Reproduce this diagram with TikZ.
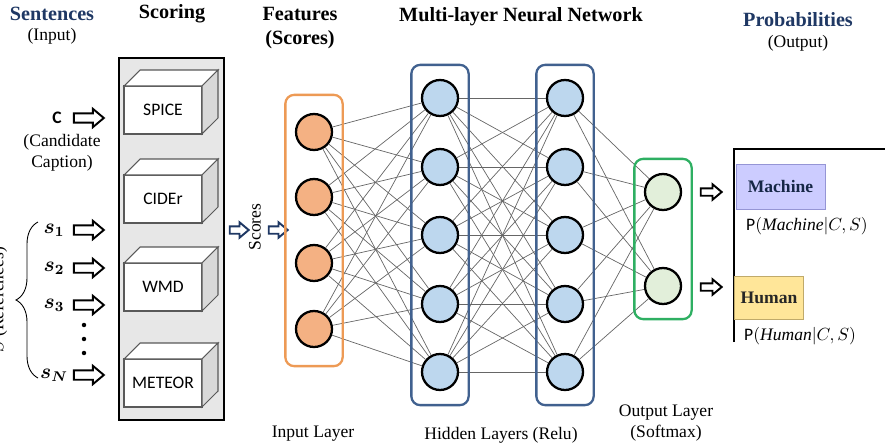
\documentclass[tikz,border=0pt]{standalone}
\usepackage{fontspec}
\setmainfont{Liberation Serif}
\newfontfamily\calibri{Carlito}
\usepackage{bm}
\usetikzlibrary{positioning, fit, shapes.arrows, decorations.pathreplacing}

\definecolor{navy}{HTML}{1F3864}
\definecolor{inorange}{HTML}{F4B183}
\definecolor{boxorange}{HTML}{ED9A55}
\definecolor{inblue}{HTML}{BDD7EE}
\definecolor{boxblue}{HTML}{41618F}
\definecolor{outgreen}{HTML}{E2EFDA}
\definecolor{boxgreen}{HTML}{2EAF62}
\definecolor{scoregray}{HTML}{E7E7E7}
\definecolor{machinefill}{HTML}{CCCCFF}
\definecolor{machineedge}{HTML}{9595D5}
\definecolor{humanfill}{HTML}{FFE699}
\definecolor{humanedge}{HTML}{C0AA6A}

\begin{document}
\begin{tikzpicture}[x=0.02cm, y=-0.02cm,
    neuron/.style={circle, draw, line width=1.3pt, minimum size=0.72cm, inner sep=0pt},
    layerbox/.style={rectangle, draw, rounded corners=5pt, line width=1.3pt, inner xsep=0.19cm, inner ysep=0.28cm},
    link/.style={draw=gray!80!black, line width=0.4pt},
    metric/.style={rectangle, draw=gray!70!black, line width=0.6pt, fill=white, minimum width=1.56cm, minimum height=0.96cm, outer sep=0pt, font=\calibri},
    blockarrow/.style={single arrow, draw, line width=1.1pt, fill=white, minimum height=0.6cm, inner sep=0.075cm, single arrow head extend=0.09cm, single arrow tip angle=80},
    title/.style={font=\fontsize{11.5}{13.6}\selectfont\bfseries, align=center}]

    \useasboundingbox (0,0) rectangle (885,446);

    % Headings
    \node[title, text=navy] (sentences) at (52,14) {Sentences};
    \node (input) at (52,36) {(Input)};
    \node[title] (scoring) at (172,14) {Scoring};
    \node[title] (features) at (300,28) {Features\\(Scores)};
    \node[title] (mlnn) at (521,17) {Multi-layer Neural Network};
    \node[title, text=navy] (probs) at (798,20) {Probabilities};
    \node (output) at (798,43) {(Output)};

    % Sentences
    \node[font=\calibri\bfseries] (cand) at (57,118) {C};
    \node[blockarrow] (candarr) at (86,118) {};
    \node[align=center] (candlbl) at (62,153) {(Candidate\\Caption)};
    \foreach \k/\y in {1/230,2/268,3/305,N/375} {
        \node[font=\large] (s\k) at (54,\y) {$\bm{s_{\k}}$};
        \node[blockarrow] (sarr\k) at (86,\y) {};
    }
    \foreach \k/\y in {1/325,2/339,3/353}
        \node[circle, fill, inner sep=0.9pt] (dot\k) at (84,\y) {};
    \draw[decorate, decoration={brace, amplitude=0.44cm}, line width=0.5pt] (38,378) -- (38,222);
    \node[rotate=90] (refs) at (-1,300) {$S$ (References)};

    % Scoring
    \node[draw, line width=1pt, fill=scoregray, minimum width=2.1cm, minimum height=7.24cm] (panel) at (171.5,239) {};
    \foreach \m/\txt/\y in {spice/SPICE/110, cider/CIDEr/199, wmd/WMD/287, meteor/METEOR/383} {
        \node[metric] (\m) at (163,\y) {\txt};
        \draw[draw=gray!70!black, line width=0.6pt, fill=white] (\m.north west) -- ++(16,-16) -- ++(78,0) -- (\m.north east) -- cycle;
        \draw[draw=gray!70!black, line width=0.6pt, fill=gray!30] (\m.north east) -- ++(16,-16) -- ++(0,48) -- (\m.south east) -- cycle;
    }

    % Scores
    \node[blockarrow, draw=navy, minimum height=0.38cm, inner sep=0.055cm, single arrow head extend=0.08cm] (scarr1) at (237,230) {};
    \node[rotate=90] (scores) at (255,227) {Scores};
    \node[blockarrow, draw=navy, minimum height=0.38cm, inner sep=0.055cm, single arrow head extend=0.08cm] (scarr2) at (276,230) {};

    % Network
    \foreach \i/\y in {1/132,2/197,3/263,4/329}
        \node[neuron, fill=inorange] (in\i) at (314,\y) {};
    \foreach \i/\y in {1/98,2/167,3/235,4/304,5/372} {
        \node[neuron, fill=inblue] (ha\i) at (440,\y) {};
        \node[neuron, fill=inblue] (hb\i) at (565,\y) {};
    }
    \node[neuron, fill=outgreen] (out1) at (663,192) {};
    \node[neuron, fill=outgreen] (out2) at (663,286) {};

    \foreach \a in {1,...,4}
        \foreach \b in {1,...,5}
            \draw[link] (in\a) -- (ha\b);
    \foreach \a in {1,...,5}
        \foreach \b in {1,...,5}
            \draw[link] (ha\a) -- (hb\b);
    \foreach \a in {1,...,5}
        \foreach \b in {1,2}
            \draw[link] (hb\a) -- (out\b);

    \node[layerbox, draw=boxorange, inner ysep=0.36cm, fit=(in1)(in4)] (inbox) {};
    \node[layerbox, draw=boxblue, fit=(ha1)(ha5)] (habox) {};
    \node[layerbox, draw=boxblue, fit=(hb1)(hb5)] (hbbox) {};
    \node[layerbox, draw=boxgreen, fit=(out1)(out2)] (outbox) {};

    \node (inlayer) at (313,434) {Input Layer};
    \node (hidlayers) at (501,435) {Hidden Layers (Relu)};
    \node[align=center] (outlayer) at (666,423) {Output Layer\\(Softmax)};

    % Probabilities
    \node[blockarrow, minimum height=0.42cm, inner sep=0.055cm, single arrow head extend=0.08cm] (oarr1) at (709,192) {};
    \node[blockarrow, minimum height=0.42cm, inner sep=0.055cm, single arrow head extend=0.08cm] (oarr2) at (709,287) {};
    \draw[line width=1.6pt] (734,342) -- (734,149) -- (885,149);
    \node[draw=machineedge, fill=machinefill, minimum width=1.78cm, minimum height=0.9cm, font=\bfseries, text=navy!70!black] (machine) at (780.5,186.5) {Machine};
    \node[anchor=west] (pmach) at (740,226) {{\calibri P}$(\mathit{Machine}|C,S)$};
    \node[draw=humanedge, fill=humanfill, minimum width=1.32cm, minimum height=0.86cm, font=\bfseries, text=black!85] (human) at (769,297.5) {Human};
    \node[anchor=west] (phum) at (738,336) {{\calibri P}$(\mathit{Human}|C,S)$};

\end{tikzpicture}
\end{document}
